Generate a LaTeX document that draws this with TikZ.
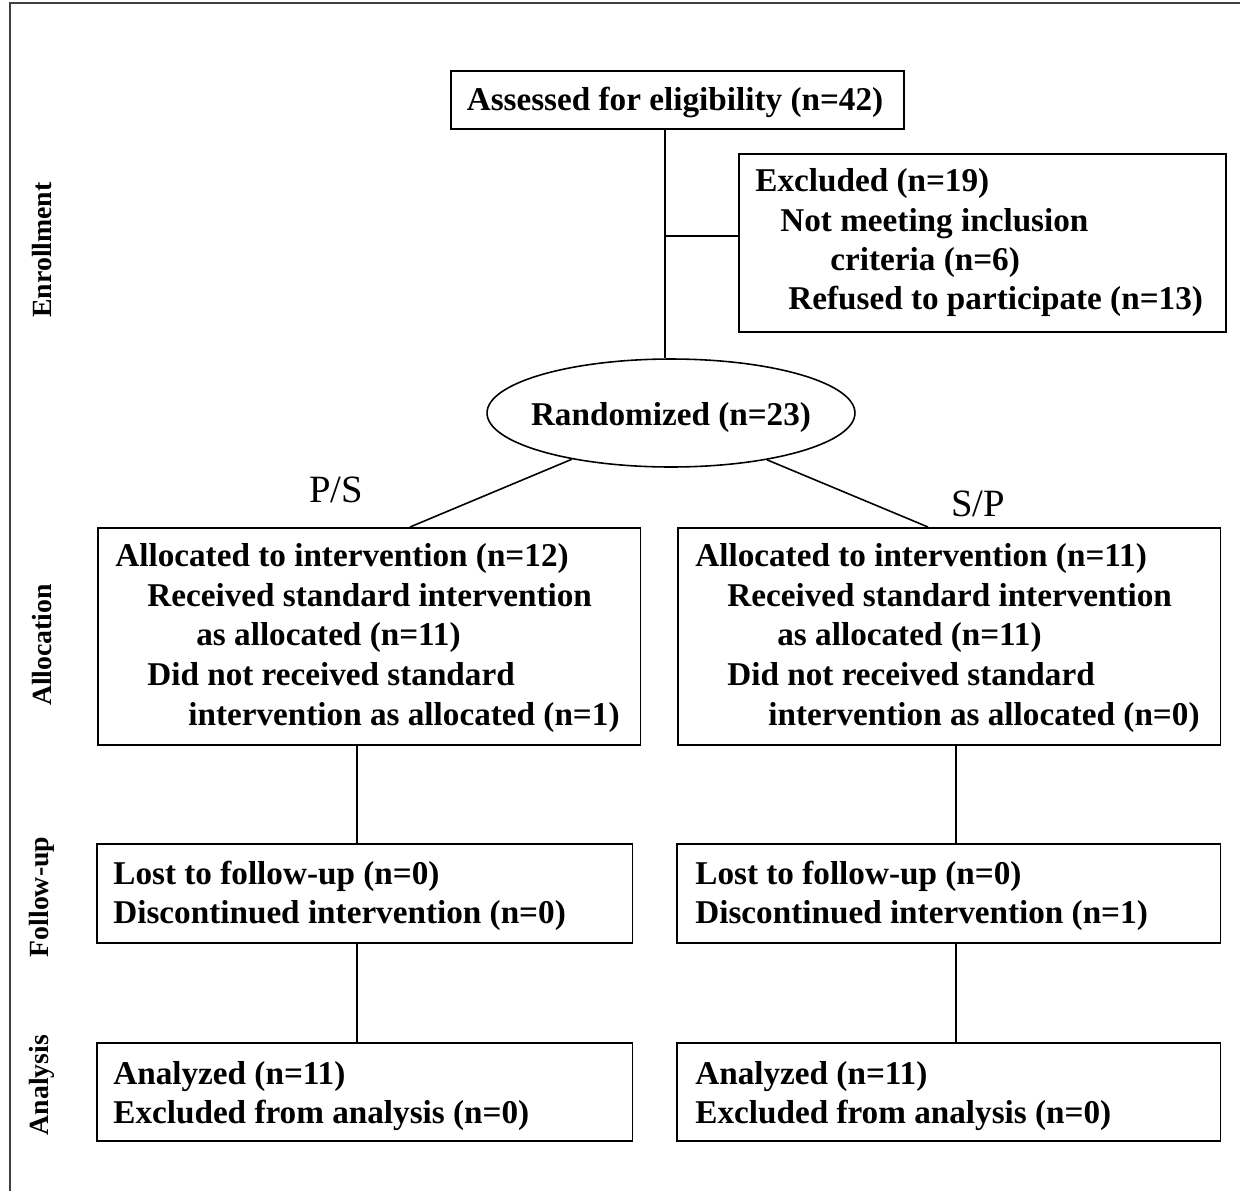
\documentclass[tikz,border=0pt]{standalone}
\usepackage{fontspec}
\setmainfont{Liberation Serif}
\usetikzlibrary{shapes.geometric,calc}
\begin{document}
\begin{tikzpicture}[x=0.02cm,y=-0.02cm,
  box/.style={draw, line width=0.9pt, inner sep=0pt, anchor=north west},
  txt/.style={anchor=base west, inner sep=0pt, font=\fontsize{18.9}{22}\selectfont\bfseries},
  ctxt/.style={anchor=base, inner sep=0pt, font=\fontsize{18.9}{22}\selectfont\bfseries},
  side/.style={rotate=90, inner sep=0pt, font=\fontsize{15.8}{18}\selectfont\bfseries},
  lbl/.style={anchor=base, inner sep=0pt, font=\fontsize{22}{26}\selectfont},
  conn/.style={line width=0.9pt}]
\useasboundingbox (0,0) rectangle (1240,1191);
\draw[line width=1.2pt, black!75] (10,1191) -- (10,3) -- (1240,3);

% boxes
\node[box, minimum width=9.06cm, minimum height=1.16cm] (assess) at (450,70) {};
\node[box, minimum width=9.74cm, minimum height=3.56cm] (excl) at (738,153) {};
\node[draw, line width=0.9pt, ellipse, inner sep=0pt, minimum width=7.36cm, minimum height=2.16cm] (rand) at (671,413) {};
\node[box, minimum width=10.86cm, minimum height=4.34cm] (allocL) at (97,527) {};
\node[box, minimum width=10.86cm, minimum height=4.34cm] (allocR) at (677,527) {};
\node[box, minimum width=10.72cm, minimum height=1.98cm] (followL) at (96,843) {};
\node[box, minimum width=10.88cm, minimum height=1.98cm] (followR) at (676,843) {};
\node[box, minimum width=10.72cm, minimum height=1.96cm] (anaL) at (96,1042) {};
\node[box, minimum width=10.88cm, minimum height=1.96cm] (anaR) at (676,1042) {};

% texts
\node[ctxt] (tassess) at (675,110) {Assessed for eligibility (n=42)};
\node[txt] (te1) at (755,191) {Excluded (n=19)};
\node[txt] (te2) at (780,231) {Not meeting inclusion};
\node[txt] (te3) at (830,270) {criteria (n=6)};
\node[txt] (te4) at (788,309) {Refused to participate (n=13)};
\node[ctxt] (trand) at (671,425) {Randomized (n=23)};

\node[txt] (tl1) at (115,566) {Allocated to intervention (n=12)};
\node[txt] (tl2) at (147,606) {Received standard intervention};
\node[txt] (tl3) at (196,645) {as allocated (n=11)};
\node[txt] (tl4) at (147,685) {Did not received standard};
\node[txt] (tl5) at (188,725) {intervention as allocated (n=1)};

\node[txt] (tr1) at (695,566) {Allocated to intervention (n=11)};
\node[txt] (tr2) at (727,606) {Received standard intervention};
\node[txt] (tr3) at (777,645) {as allocated (n=11)};
\node[txt] (tr4) at (727,685) {Did not received standard};
\node[txt] (tr5) at (768,725) {intervention as allocated (n=0)};

\node[txt] (fl1) at (113,884) {Lost to follow-up (n=0)};
\node[txt] (fl2) at (113,923) {Discontinued intervention (n=0)};
\node[txt] (fr1) at (695,884) {Lost to follow-up (n=0)};
\node[txt] (fr2) at (695,923) {Discontinued intervention (n=1)};

\node[txt] (al1) at (113,1084) {Analyzed (n=11)};
\node[txt] (al2) at (113,1123) {Excluded from analysis (n=0)};
\node[txt] (ar1) at (695,1084) {Analyzed (n=11)};
\node[txt] (ar2) at (695,1123) {Excluded from analysis (n=0)};

\node[lbl] (ps) at (336,502) {P/S};
\node[lbl] (sp) at (978,516) {S/P};

\node[side] (s1) at (42,250) {Enrollment};
\node[side] (s2) at (42,645) {Allocation};
\node[side] (s3) at (42,897) {Follow-up};
\node[side] (s4) at (42,1085) {Analysis};

% connectors
\coordinate (c1) at (665,236);
\coordinate (pl) at (410,527);
\coordinate (pr) at (928,527);
\coordinate (vl) at (357,0);
\coordinate (vr) at (956,0);
\draw[conn] (assess.south -| c1) -- (rand.north -| c1);
\draw[conn] (c1) -- (excl.west |- c1);
\draw[conn] (rand.205) -- (allocL.north -| pl);
\draw[conn] (rand.334) -- (allocR.north -| pr);
\draw[conn] (allocL.south -| vl) -- (followL.north -| vl);
\draw[conn] (followL.south -| vl) -- (anaL.north -| vl);
\draw[conn] (allocR.south -| vr) -- (followR.north -| vr);
\draw[conn] (followR.south -| vr) -- (anaR.north -| vr);
\end{tikzpicture}
\end{document}
